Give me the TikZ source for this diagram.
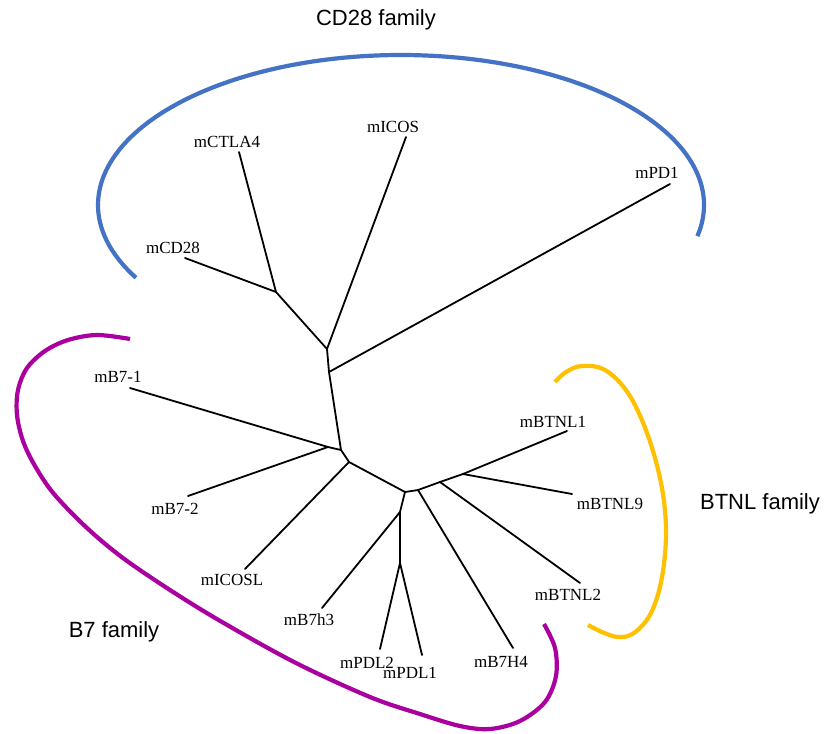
\documentclass[tikz,border=0pt]{standalone}
\usepackage{fontspec}
\setmainfont{Liberation Serif}
\newfontfamily\arialf{Liberation Sans}
\definecolor{famblue}{RGB}{68,114,196}
\definecolor{fampurple}{RGB}{170,0,160}
\definecolor{famyellow}{RGB}{255,192,0}
\begin{document}
\begin{tikzpicture}[x=1pt,y=-1pt,
  branch/.style={line width=1.8pt,line cap=round,line join=round},
  famarc/.style={line width=4.2pt},
  taxon/.style={font=\fontsize{17}{17}\selectfont,inner sep=0pt,anchor=center},
  famlabel/.style={font=\arialf\fontsize{22}{22}\selectfont,inner sep=0pt,anchor=base}]
\useasboundingbox (0,0) rectangle (826,733);
% family arcs
\draw[famarc,famblue] plot[domain=-12:209,samples=120,smooth] ({401+303*cos(\x)},{205-150*sin(\x)});
\draw[famarc,fampurple] plot[smooth,tension=0.55] coordinates {(130,339) (97,335) (68,340) (45,351) (27,368) (18,390) (17,415) (23,441) (35,466) (54,494) (87,528) (123,558) (170,590) (222,622) (296,663) (370,697) (420,714) (460,726) (490,729) (520,721) (545,702) (556,676) (555,648) (544,624)};
\draw[famarc,famyellow] plot[smooth,tension=0.6] coordinates {(555,382) (566,372) (582,366) (605,370) (628,393) (647,433) (661,483) (666,530) (662,577) (651,613) (634,633) (618,637) (602,632) (588,625)};
% junctions
\coordinate (j1) at (276,292);
\coordinate (j2) at (327,349);
\coordinate (j3) at (329,372);
\coordinate (j4) at (341,450);
\coordinate (jb) at (328,447);
\coordinate (j5) at (349,462);
\coordinate (j6) at (405,492);
\coordinate (j7) at (400,512);
\coordinate (j8) at (400,563);
\coordinate (j9) at (418,490);
\coordinate (j10) at (440,482);
\coordinate (j11) at (463,474);
% tips
\coordinate (tCTLA4) at (239,152);
\coordinate (tCD28) at (185,258);
\coordinate (tICOS) at (406,137);
\coordinate (tPD1) at (670,184);
\coordinate (tB71) at (130,388);
\coordinate (tB72) at (188,496);
\coordinate (tICOSL) at (245,569);
\coordinate (tB7h3) at (322,608);
\coordinate (tPDL2) at (380,649);
\coordinate (tPDL1) at (422,655);
\coordinate (tB7H4) at (513,648);
\coordinate (tBTNL2) at (580,583);
\coordinate (tBTNL1) at (567,431);
\coordinate (tBTNL9) at (572,494);
% branches
\draw[branch] (tCTLA4) -- (j1) -- (tCD28);
\draw[branch] (j1) -- (j2) -- (tICOS);
\draw[branch] (j2) -- (j3) -- (tPD1);
\draw[branch] (j3) -- (j4) -- (jb) -- (tB71);
\draw[branch] (jb) -- (tB72);
\draw[branch] (j4) -- (j5) -- (tICOSL);
\draw[branch] (j5) -- (j6) -- (j7) -- (tB7h3);
\draw[branch] (j7) -- (j8) -- (tPDL2);
\draw[branch] (j8) -- (tPDL1);
\draw[branch] (j6) -- (j9) -- (tB7H4);
\draw[branch] (j9) -- (j10) -- (tBTNL2);
\draw[branch] (j10) -- (j11) -- (tBTNL1);
\draw[branch] (j11) -- (tBTNL9);
% taxon labels
\node[taxon] (lCTLA4) at (227,142) {mCTLA4};
\node[taxon] (lICOS) at (393,127) {mICOS};
\node[taxon] (lCD28) at (173,248) {mCD28};
\node[taxon] (lPD1) at (657,173) {mPD1};
\node[taxon] (lB71) at (118,377) {mB7-1};
\node[taxon] (lB72) at (175,509) {mB7-2};
\node[taxon] (lICOSL) at (232,580) {mICOSL};
\node[taxon] (lB7h3) at (309,620) {mB7h3};
\node[taxon] (lPDL2) at (367,663) {mPDL2};
\node[taxon] (lPDL1) at (410,673) {mPDL1};
\node[taxon] (lB7H4) at (501,662) {mB7H4};
\node[taxon] (lBTNL1) at (553,422) {mBTNL1};
\node[taxon] (lBTNL9) at (610,504) {mBTNL9};
\node[taxon] (lBTNL2) at (568,595) {mBTNL2};
% family labels
\node[famlabel] (fCD28) at (376,26) {CD28 family};
\node[famlabel] (fB7) at (114,637) {B7 family};
\node[famlabel] (fBTNL) at (760,509) {BTNL family};
\end{tikzpicture}
\end{document}
